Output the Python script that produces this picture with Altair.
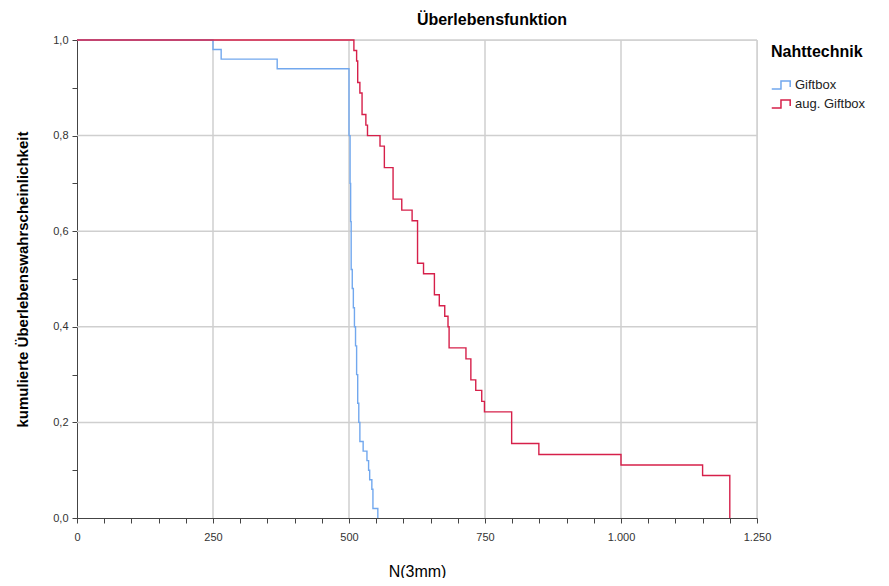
import altair as alt
import pandas as pd

# Kaplan-Meier step data (time, survival after event)
giftbox_t = [0, 250, 265, 368, 500, 502, 503, 504, 506, 508, 510, 512, 514, 516, 518, 520, 526, 533, 536, 538, 542, 544, 553]
giftbox_s = [1.0, 0.98, 0.96, 0.94, 0.80, 0.70, 0.62, 0.52, 0.48, 0.44, 0.40, 0.36, 0.30, 0.24, 0.20, 0.16, 0.14, 0.12, 0.10, 0.08, 0.06, 0.02, 0.0]

aug_t = [0, 509, 514, 516, 520, 524, 531, 534, 557, 565, 581, 597, 616, 626, 637, 657, 666, 676, 682, 684, 715, 724, 733, 744, 749, 799, 849, 1000, 1150, 1200]
aug_s = [1.0, 0.978, 0.956, 0.911, 0.889, 0.844, 0.822, 0.800, 0.778, 0.733, 0.667, 0.644, 0.622, 0.533, 0.511, 0.467, 0.444, 0.422, 0.400, 0.356, 0.333, 0.289, 0.267, 0.244, 0.222, 0.156, 0.133, 0.111, 0.089, 0.0]

groups = ["Giftbox", "aug. Giftbox"]
colors = ["#72a8ee", "#d6204a"]

grid_x = [250, 500, 750, 1000, 1250]
grid_y = [0.2, 0.4, 0.6, 0.8, 1.0]
x_ticks = list(range(0, 1251, 50))
y_ticks = [i / 10 for i in range(0, 11)]

rows = []
for t, s in zip(giftbox_t, giftbox_s):
    rows.append({"t": t, "s": s, "g": groups[0], "o": len(rows)})
for t, s in zip(aug_t, aug_s):
    rows.append({"t": t, "s": s, "g": groups[1], "o": len(rows)})
df = pd.DataFrame(rows)

FONT = "Liberation Sans"

xscale = alt.Scale(domain=[0, 1250], nice=False, zero=False)
yscale = alt.Scale(domain=[0, 1], nice=False)

gx = alt.Chart(pd.DataFrame({"v": grid_x})).mark_rule(color="#cfcfcf", strokeWidth=1.5).encode(
    x=alt.X("v:Q", scale=xscale, axis=None)
)
gy = alt.Chart(pd.DataFrame({"v": grid_y})).mark_rule(color="#cfcfcf", strokeWidth=1.5).encode(
    y=alt.Y("v:Q", scale=yscale, axis=None)
)

lines = alt.Chart(df).mark_line(interpolate="step-after", strokeWidth=1.4).encode(
    x=alt.X(
        "t:Q",
        scale=xscale,
        axis=alt.Axis(
            values=x_ticks,
            title="N(3mm)",
            titleFont=FONT,
            titleFontSize=16,
            titleFontWeight="normal",
            titleColor="#000000",
            titlePadding=21,
            labelExpr="datum.value % 250 == 0 ? replace(format(datum.value, ','), ',', '.') : ''",
            labelFont=FONT,
            labelFontSize=11,
            labelColor="#333333",
            labelPadding=8,
            tickSize=5,
            tickColor="#444444",
            domainColor="#444444",
            grid=False,
            labelFlush=False,
            labelOverlap=False,
        ),
    ),
    y=alt.Y(
        "s:Q",
        scale=yscale,
        axis=alt.Axis(
            values=y_ticks,
            title="kumulierte Überlebenswahrscheinlichkeit",
            titleFont=FONT,
            titleFontSize=15,
            titleFontWeight="bold",
            titleColor="#000000",
            titlePadding=22,
            labelExpr="round(datum.value * 10) % 2 == 0 ? replace(format(datum.value, '.1f'), '.', ',') : ''",
            labelFont=FONT,
            labelFontSize=11,
            labelColor="#333333",
            labelPadding=4,
            tickSize=5,
            tickColor="#444444",
            domainColor="#444444",
            grid=False,
            labelOverlap=False,
        ),
    ),
    color=alt.Color(
        "g:N",
        scale=alt.Scale(domain=groups, range=colors),
        legend=alt.Legend(
            title="Nahttechnik",
            titleFont=FONT,
            titleFontSize=16,
            titleFontWeight="bold",
            titleColor="#000000",
            titlePadding=14,
            labelFont=FONT,
            labelFontSize=13,
            labelColor="#222222",
            labelOffset=2,
            symbolType="M-1,0.4H-0.1V-0.4H0.8V0.2",
            symbolSize=420,
            symbolStrokeWidth=1.5,
            rowPadding=0,
            orient="none",
            legendX=694,
            legendY=4,
        ),
    ),
    order="o:Q",
)

chart = (
    alt.layer(gx, gy, lines)
    .resolve_axis(x="independent", y="independent")
    .properties(
        width=680,
        height=478,
        title=alt.TitleParams(
            "Überlebensfunktion",
            font=FONT,
            fontSize=16,
            fontWeight="bold",
            color="#000000",
            anchor="middle",
            dx=75,
            offset=6,
        ),
        autosize=alt.AutoSizeParams(type="none"),
        padding={"left": 69, "top": 32, "right": 120, "bottom": 60},
    )
    .configure_view(stroke=None)
    .configure(background="white")
)

chart.save("out.html", embed_options={"renderer": "svg", "actions": False})
